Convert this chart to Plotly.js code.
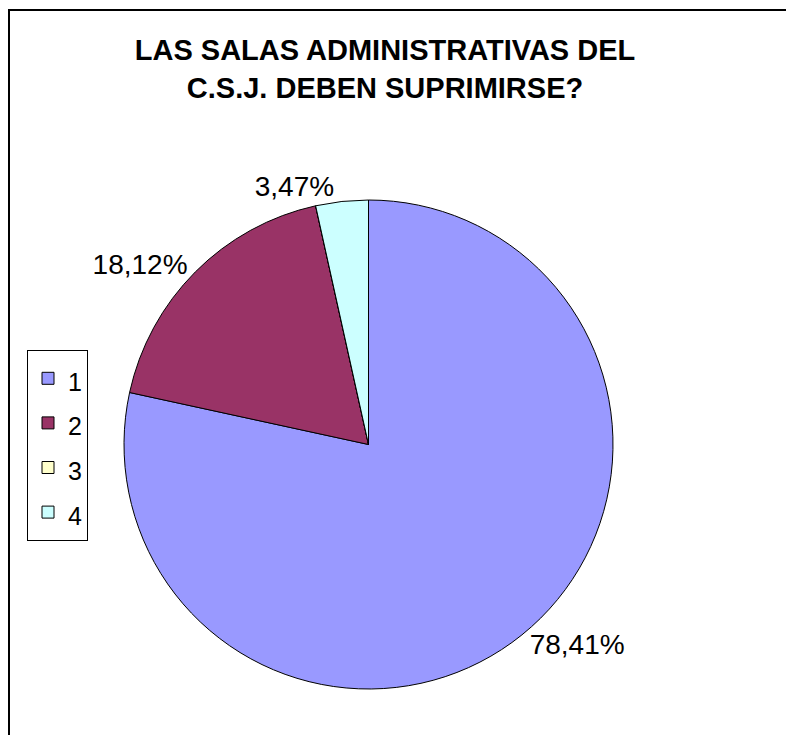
<!DOCTYPE html>
<html>
<head>
<meta charset="utf-8">
<script src="https://cdn.plot.ly/plotly-3.0.1.min.js"></script>
<style>
  html, body { margin: 0; padding: 0; background: #ffffff; }
  #chart { width: 786px; height: 735px; }
</style>
</head>
<body>
<div id="chart"></div>
<script>
// ---- data ----
var chartTitle = 'LAS SALAS ADMINISTRATIVAS DEL<br>C.S.J. DEBEN SUPRIMIRSE?';
var categories = ['1', '2', '3', '4'];
var shares = [78.41, 18.12, 0, 3.47];
var sliceColors = ['#9999FF', '#993366', '#FFFFCC', '#CCFFFF'];

var W = 786, H = 735;
var FONT = 'Liberation Sans, Arial, sans-serif';

var trace = {
  type: 'pie',
  labels: categories.map(function (c) { return '<span style="font-size:25px">' + c + '</span>'; }),
  values: shares,
  sort: false,
  direction: 'clockwise',
  rotation: 0,
  marker: { colors: sliceColors, line: { color: '#000000', width: 1 } },
  texttemplate: shares.map(function (v) { return v > 0 ? '%{percent:.2%}' : ''; }),
  textposition: 'outside',
  textfont: { family: FONT, size: 28, color: '#000000' },
  domain: { x: [124 / W, 613 / W], y: [1 - 689 / H, 1 - 200 / H] },
  hoverinfo: 'none'
};

var layout = {
  width: W,
  height: H,
  margin: { l: 0, r: 0, t: 0, b: 0 },
  paper_bgcolor: '#ffffff',
  separators: ',.',
  font: { family: FONT, color: '#000000' },
  title: {
    text: chartTitle,
    font: { family: FONT, size: 29, color: '#000000', weight: 'bold' },
    x: 385 / W,
    xanchor: 'center',
    xref: 'paper',
    y: 1 - 60 / H,
    yanchor: 'top',
    yref: 'container'
  },
  showlegend: true,
  legend: {
    x: 27 / W,
    xanchor: 'left',
    y: 1 - 350 / H,
    yanchor: 'top',
    bgcolor: '#ffffff',
    bordercolor: '#000000',
    borderwidth: 1,
    font: { family: FONT, size: 32, color: '#000000' },
    traceorder: 'normal'
  },
  shapes: [{
    type: 'rect',
    xref: 'paper', yref: 'paper',
    x0: 9 / W, x1: 1.05,
    y0: -0.05, y1: 1 - 10 / H,
    line: { color: '#000000', width: 2 },
    fillcolor: 'rgba(0,0,0,0)',
    layer: 'below'
  }]
};

Plotly.newPlot('chart', [trace], layout, { staticPlot: true, displayModeBar: false });
</script>
</body>
</html>
